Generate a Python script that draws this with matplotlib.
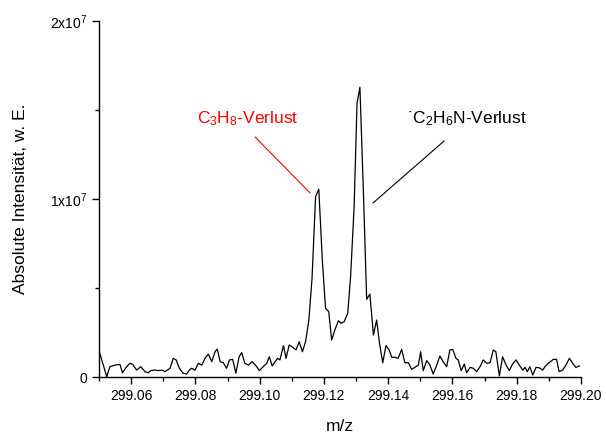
import matplotlib
matplotlib.use("Agg")
import matplotlib.pyplot as plt
from matplotlib.ticker import MultipleLocator, FixedLocator, FixedFormatter

plt.rcParams['font.family'] = ['Liberation Sans', 'DejaVu Sans']
plt.rcParams['mathtext.fontset'] = 'custom'
plt.rcParams['mathtext.rm'] = 'Liberation Sans'
plt.rcParams['mathtext.it'] = 'Liberation Sans'

# m/z offset from 299 and intensity in units of 1e7
mz_off = [0.0501, 0.0524, 0.0534, 0.0550, 0.0565, 0.0573, 0.0586, 0.0596, 0.0605, 0.0617,
          0.0630, 0.0643, 0.0653, 0.0661, 0.0674, 0.0685, 0.0695, 0.0705, 0.0721, 0.0731,
          0.0740, 0.0750, 0.0762, 0.0773, 0.0781, 0.0788, 0.0799, 0.0809, 0.0820, 0.0830,
          0.0840, 0.0851, 0.0861, 0.0868, 0.0877, 0.0887, 0.0897, 0.0906, 0.0916, 0.0926,
          0.0936, 0.0944, 0.0954, 0.0965, 0.0977, 0.0989, 0.0999, 0.1011, 0.1022, 0.1030,
          0.1039, 0.1048, 0.1056, 0.1063, 0.1074, 0.1082, 0.1092, 0.1103, 0.1113, 0.1123,
          0.1133, 0.1143, 0.1153, 0.1163, 0.1174, 0.1184, 0.1195, 0.1205, 0.1215, 0.1224,
          0.1234, 0.1245, 0.1253, 0.1263, 0.1274, 0.1283, 0.1294, 0.1303, 0.1312, 0.1323,
          0.1333, 0.1343, 0.1354, 0.1364, 0.1373, 0.1383, 0.1393, 0.1403, 0.1411, 0.1421,
          0.1431, 0.1442, 0.1452, 0.1463, 0.1473, 0.1483, 0.1494, 0.1501, 0.1509, 0.1520,
          0.1530, 0.1540, 0.1551, 0.1561, 0.1571, 0.1582, 0.1592, 0.1601, 0.1611, 0.1618,
          0.1627, 0.1637, 0.1644, 0.1655, 0.1665, 0.1675, 0.1686, 0.1696, 0.1707, 0.1717,
          0.1727, 0.1735, 0.1746, 0.1756, 0.1767, 0.1777, 0.1787, 0.1798, 0.1808, 0.1819,
          0.1826, 0.1833, 0.1841, 0.1850, 0.1860, 0.1870, 0.1881, 0.1888, 0.1898, 0.1914,
          0.1924, 0.1932, 0.1943, 0.1953, 0.1964, 0.1974, 0.1984, 0.1995]
intensity = [0.142, 0.002, 0.058, 0.067, 0.071, 0.024, 0.058, 0.077, 0.071, 0.039,
             0.058, 0.030, 0.024, 0.036, 0.039, 0.036, 0.039, 0.030, 0.049, 0.105,
             0.096, 0.049, 0.021, 0.017, 0.039, 0.049, 0.039, 0.077, 0.067, 0.105,
             0.129, 0.086, 0.142, 0.157, 0.086, 0.080, 0.049, 0.096, 0.099, 0.021,
             0.114, 0.137, 0.077, 0.067, 0.086, 0.062, 0.036, 0.058, 0.077, 0.114,
             0.062, 0.086, 0.105, 0.096, 0.176, 0.105, 0.180, 0.167, 0.152, 0.198,
             0.142, 0.200, 0.320, 0.555, 1.013, 1.055, 0.657, 0.386, 0.367, 0.208,
             0.264, 0.316, 0.302, 0.311, 0.358, 0.563, 0.957, 1.538, 1.628, 1.032,
             0.437, 0.466, 0.236, 0.320, 0.189, 0.080, 0.176, 0.152, 0.111, 0.111,
             0.105, 0.155, 0.080, 0.080, 0.043, 0.054, 0.067, 0.142, 0.036, 0.092,
             0.067, 0.017, 0.067, 0.118, 0.086, 0.058, 0.152, 0.155, 0.105, 0.096,
             0.036, 0.073, 0.024, 0.054, 0.049, 0.030, 0.058, 0.096, 0.077, 0.080,
             0.152, 0.142, 0.006, 0.114, 0.067, 0.036, 0.073, 0.096, 0.067, 0.039,
             0.054, 0.030, 0.058, 0.011, 0.054, 0.052, 0.039, 0.058, 0.077, 0.099,
             0.099, 0.030, 0.039, 0.067, 0.105, 0.077, 0.054, 0.062]

mz = [299 + v for v in mz_off]
y = [v * 1e7 for v in intensity]

ytick_vals = [0, 1e7, 2e7]
ytick_labels = ['0', r'$\mathregular{1x10^7}$', r'$\mathregular{2x10^7}$']
xtick_vals = [299.06, 299.08, 299.10, 299.12, 299.14, 299.16, 299.18, 299.20]

# annotation labels: text position and leader line (m/z, intensity)
labels = [r'C$\mathregular{_3}$H$\mathregular{_8}$-Verlust',
          r'˙C$\mathregular{_2}$H$\mathregular{_6}$N-Verlust']
label_colors = ['red', 'black']
label_pos = [(299.0962, 1.45e7), (299.1644, 1.45e7)]
line_start = [(299.0986, 1.348e7), (299.1574, 1.326e7)]
line_end = [(299.1157, 1.034e7), (299.1353, 0.978e7)]

fig = plt.figure(figsize=(6.06, 4.34), dpi=100)
ax = fig.add_axes([0.1634, 0.1313, 0.7953, 0.8203])

ax.plot(mz, y, color='black', lw=0.9)

ax.set_xlim(299.05, 299.20)
ax.set_ylim(0, 2e7)

ax.spines['top'].set_visible(False)
ax.spines['right'].set_visible(False)
ax.spines['left'].set_linewidth(1.0)
ax.spines['bottom'].set_linewidth(1.0)

ax.xaxis.set_major_locator(FixedLocator(xtick_vals))
ax.xaxis.set_major_formatter(FixedFormatter(['%.2f' % v for v in xtick_vals]))
ax.xaxis.set_minor_locator(MultipleLocator(0.01))
ax.yaxis.set_major_locator(FixedLocator(ytick_vals))
ax.yaxis.set_major_formatter(FixedFormatter(ytick_labels))
ax.yaxis.set_minor_locator(MultipleLocator(0.5e7))
ax.tick_params(which='major', direction='out', length=5, width=1.0, labelsize=10)
ax.tick_params(which='minor', direction='out', length=3, width=1.0)

ax.set_xlabel('m/z', fontsize=12.5)
ax.set_ylabel('Absolute Intensität, w. E.', fontsize=12.5)
ax.xaxis.set_label_coords(0.5, -0.118)
ax.yaxis.set_label_coords(-0.147, 0.5)

for txt, col, pos, p0, p1 in zip(labels, label_colors, label_pos, line_start, line_end):
    ax.text(pos[0], pos[1], txt, color=col, fontsize=12.5, ha='center', va='center')
    ax.plot([p0[0], p1[0]], [p0[1], p1[1]], color=col, lw=0.8)

fig.savefig('out.png', dpi=100)
